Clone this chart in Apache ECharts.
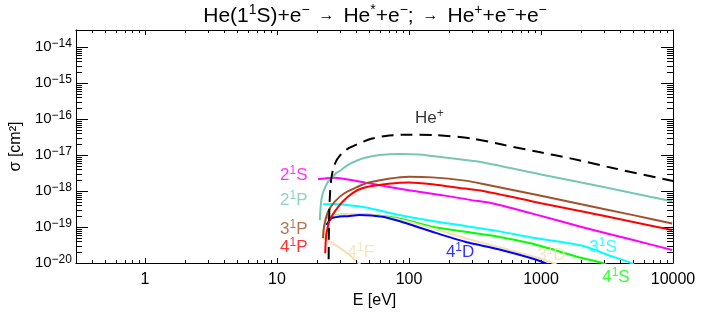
<!DOCTYPE html>
<html><head><meta charset="utf-8">
<script src="https://cdn.jsdelivr.net/npm/echarts@6/dist/echarts.min.js"></script>
<style>html,body{margin:0;padding:0;background:#fff}#c{width:708px;height:314px}</style>
</head><body><div id="c"></div>
<script>
// ---- axis ranges & tick labels ----
const xRange = [0.3, 10000];
const yRange = [1e-20, 3e-14];
const xTickLabels = ['1', '10', '100', '1000', '10000'];
const yTickExponents = [-20, -19, -18, -17, -16, -15, -14];

// ---- series values: [E (eV), sigma (cm^2)] ----
const heIon = [[24.6,1e-22],[24.62,1e-20],[24.75,1e-19],[25.0,4e-19],[25.3,1e-18],[25.8,2.2e-18],[26.8,4.5e-18],[28.5,7.5e-18],[31.6,1.2e-17],[35,1.55e-17],[40,1.95e-17],[51,2.8e-17],[66.7,3.4e-17],[99,3.7e-17],[158,3.6e-17],[299,2.9e-17],[528,1.9e-17],[947,1.23e-17],[1670,8.1e-18],[3570,4.3e-18],[10000,1.9e-18]];
const s2_1P = [[21.1,1.56e-19],[21.4,3.5e-19],[21.7,5.6e-19],[22.3,9e-19],[23.0,1.19e-18],[24.3,1.8e-18],[25.8,2.24e-18],[28.2,3.2e-18],[30.6,3.8e-18],[34,5.2e-18],[40.9,7.2e-18],[47.3,8.6e-18],[60,1.0e-17],[84,1.07e-17],[120,1.03e-17],[150,9.4e-18],[250,7.5e-18],[357,6.3e-18],[1000,2.9e-18],[2017,1.74e-18],[5000,8.7e-19],[9860,5.2e-19]];
const s2_1S = [[20.5,2.15e-18],[23,2.25e-18],[27.3,2.35e-18],[31,2.25e-18],[36.6,2.04e-18],[47.2,1.7e-18],[67,1.35e-18],[100,1.05e-18],[178,7.7e-19],[299,5.6e-19],[425,4.6e-19],[847,2.4e-19],[2000,1.02e-19],[5000,4.35e-20],[9860,2.3e-20]];
const s3_1P = [[22.3,4.9e-20],[22.6,9e-20],[23.0,1.26e-19],[24.4,2.7e-19],[27.3,5e-19],[32.4,8.7e-19],[40.9,1.32e-18],[48.7,1.7e-18],[70,2.2e-18],[100,2.5e-18],[150,2.4e-18],[266,1.95e-18],[357,1.6e-18],[1000,7.4e-19],[2017,4.3e-19],[5000,2.14e-19],[9860,1.25e-19]];
const s4_1P = [[23.2,1.86e-20],[23.4,4e-20],[23.7,6.6e-20],[25.1,1.56e-19],[29,3.6e-19],[34.4,6.9e-19],[40.9,1.07e-18],[48.7,1.32e-18],[70,1.6e-18],[100,1.74e-18],[150,1.55e-18],[266,1.17e-18],[357,1.02e-18],[1000,4.6e-19],[2017,2.75e-19],[5000,1.38e-19],[9860,8.3e-20]];
const s3_1S = [[22.3,4.3e-19],[26.5,4.4e-19],[34,4.1e-19],[47.2,3.5e-19],[84.2,2.15e-19],[150,1.47e-19],[266,1.07e-19],[475,7.7e-20],[847,5.1e-20],[2000,3.1e-20],[3500,1.5e-20],[4800,1e-20],[6500,5e-21]];
const s4_1S = [[23.0,1.74e-19],[25.8,2.0e-19],[30,2.2e-19],[35.4,2.3e-19],[47.2,2.25e-19],[84.2,1.74e-19],[150,1.02e-19],[266,7.4e-20],[475,5.4e-20],[847,3.5e-20],[1132,2.6e-20],[2000,1.4e-20],[2935,1e-20],[3800,6e-21]];
const s4_1D = [[23.7,1.14e-19],[25.8,1.74e-19],[30,1.95e-19],[34.4,2.0e-19],[42,2.15e-19],[63,1.94e-19],[84.2,1.47e-19],[150,7.4e-20],[266,3.9e-20],[475,2.4e-20],[847,1.35e-20],[1070,1e-20],[1300,7e-21]];
const s3_1D = [[22.8,4.4e-20],[23.0,1.4e-19],[23.5,2.0e-19],[26.5,2.05e-19],[35,2.3e-19],[42,2.3e-19],[84.2,1.63e-19],[150,9.2e-20],[266,4.9e-20],[475,2.8e-20],[847,1.56e-20],[1236,1e-20],[1500,7e-21]];
const s4_1F = [[24.0,4.2e-20],[26.5,3.5e-20],[34.5,1.8e-20],[41.4,1e-20],[50,6e-21]];

// ---- curve annotations (anchor in data coords) ----
const curveLabels = [
  {main:'He', sup:'+', tail:'', E:142.6, s:1.07e-16, color:'#000000'},
  {main:'2', sup:'1', tail:'S', E:13.4, s:2.78e-18, color:'#ff00ff'},
  {main:'2', sup:'1', tail:'P', E:13.4, s:5.6e-19, color:'#78c6b4'},
  {main:'3', sup:'1', tail:'P', E:13.4, s:8.8e-20, color:'#a0522d'},
  {main:'4', sup:'1', tail:'P', E:13.4, s:2.78e-20, color:'#ff0000'},
  {main:'4', sup:'1', tail:'F', E:43.2, s:2.03e-20, color:'#f5deb3'},
  {main:'4', sup:'1', tail:'D', E:244, s:2.03e-20, color:'#0000ff'},
  {main:'3', sup:'1', tail:'D', E:1199, s:1.67e-20, color:'#f5deb3'},
  {main:'3', sup:'1', tail:'S', E:2950, s:2.78e-20, color:'#00ffff'},
  {main:'4', sup:'1', tail:'S', E:3697, s:4.1e-21, color:'#00ff00'}
];

const FONT = 'Liberation Sans';
const chart = echarts.init(document.getElementById('c'), null, {renderer:'canvas'});

function isPow10(v){ const l = Math.log10(v); return Math.abs(l - Math.round(l)) < 1e-6; }

// minor tick positions (axis decoration)
const minorTicks = [];
for (let d = -1; d <= 3; d++) for (let m = 2; m <= 9; m++) {
  const v = m * Math.pow(10, d);
  if (v > xRange[0] && v < xRange[1]) minorTicks.push([v, yRange[0], 0]);
}
for (let d = -20; d <= -15; d++) for (let m = 2; m <= 9; m++) {
  const v = m * Math.pow(10, d);
  if (v > yRange[0] && v < yRange[1]) minorTicks.push([xRange[0], v, 1]);
}
function px(v){ return Math.round(v) + 0.5; }
function renderTick(params, api) {
  const kind = api.value(2);
  const st = {stroke:'#000', lineWidth:1};
  if (kind === 0) {
    const v = api.value(0);
    const b = api.coord([v, yRange[0]]), t = api.coord([v, yRange[1]]);
    const x = px(b[0]);
    return {type:'group', children:[
      {type:'line', shape:{x1:x, y1:b[1], x2:x, y2:b[1]-3}, style:st},
      {type:'line', shape:{x1:x, y1:t[1], x2:x, y2:t[1]+3}, style:st}]};
  } else {
    const v = api.value(1);
    const l = api.coord([xRange[0], v]), r = api.coord([xRange[1], v]);
    const y = px(l[1]);
    return {type:'group', children:[
      {type:'line', shape:{x1:l[0], y1:y, x2:l[0]+6, y2:y}, style:st},
      {type:'line', shape:{x1:r[0], y1:y, x2:r[0]-6, y2:y}, style:st}]};
  }
}

function lineSeries(name, data, color, dashed) {
  return {
    type:'line', name, data, showSymbol:false, smooth:0.25, clip:true,
    lineStyle:{color, width:2, type: dashed ? [12, 7] : 'solid'},
    emphasis:{disabled:true}, silent:true, z: dashed ? 5 : 3
  };
}

const richSup = {
  n:{fontSize:17, fontFamily:FONT, lineHeight:21},
  s:{fontSize:12, fontFamily:FONT, verticalAlign:'top', lineHeight:12}
};

const option = {
  animation:false,
  backgroundColor:'#ffffff',
  grid:{left:71, right:35, top:30, bottom:51},
  xAxis:[{
    type:'log', min:xRange[0], max:xRange[1], logBase:10,
    name:'E [eV]', nameLocation:'middle', nameGap:27,
    nameTextStyle:{fontFamily:FONT, fontSize:16, color:'#000'},
    axisLine:{show:true, lineStyle:{color:'#000', width:1}},
    axisTick:{show:true, inside:true, length:5, lineStyle:{color:'#000'}},
    axisLabel:{fontFamily:FONT, fontSize:16, color:'#000', margin:9,
      formatter:v => isPow10(v) && xTickLabels.includes(String(Math.round(v))) ? String(Math.round(v)) : ''},
    splitLine:{show:false}, minorTick:{show:false}
  },{
    type:'log', min:xRange[0], max:xRange[1], position:'top',
    axisLine:{show:true, lineStyle:{color:'#000', width:1}},
    axisTick:{show:true, inside:true, length:5, lineStyle:{color:'#000'}},
    axisLabel:{show:false}, splitLine:{show:false}
  }],
  yAxis:[{
    type:'log', min:yRange[0], max:yRange[1], logBase:10,
    name:'σ [cm²]', nameLocation:'middle', nameGap:48,
    nameTextStyle:{fontFamily:FONT, fontSize:16, color:'#000'},
    axisLine:{show:true, lineStyle:{color:'#000', width:1}},
    axisTick:{show:true, inside:true, length:12, lineStyle:{color:'#000'}},
    axisLabel:{color:'#000', margin:4,
      formatter:v => {
        if (!isPow10(v)) return '';
        const e = Math.round(Math.log10(v));
        if (!yTickExponents.includes(e)) return '';
        return '{b|10}{e|\u2212' + (-e) + '}';
      },
      rich:{b:{fontFamily:FONT, fontSize:15, lineHeight:19}, e:{fontFamily:FONT, fontSize:12, verticalAlign:'top', lineHeight:12}}
    },
    splitLine:{show:false}
  },{
    type:'log', min:yRange[0], max:yRange[1], position:'right',
    axisLine:{show:true, lineStyle:{color:'#000', width:1}},
    axisTick:{show:true, inside:true, length:12, lineStyle:{color:'#000'}},
    axisLabel:{show:false}, splitLine:{show:false}
  }],
  graphic:[{
    type:'text', x:375, y:16, silent:true,
    style:{
      text:'{n|He(1}{s|1}{n|S)+e}{s|\u2212}{a|  \u2192  }{n|He}{s|*}{n|+e}{s|\u2212}{n|;}{a|  \u2192  }{n|He}{s|+}{n|+e}{s|\u2212}{n|+e}{s|\u2212}',
      align:'center', verticalAlign:'middle', fill:'#000',
      rich:{
        n:{fontSize:21, fontFamily:FONT, lineHeight:25, fill:'#000'},
        a:{fontSize:16, fontFamily:FONT, lineHeight:25, fill:'#000'},
        s:{fontSize:14, fontFamily:FONT, verticalAlign:'top', lineHeight:14, fill:'#000'}
      }
    }
  }],
  series:[
    {type:'custom', name:'minorTicks', data:minorTicks, renderItem:renderTick, silent:true, clip:false, z:10,
     encode:{x:0, y:1}},
    lineSeries('2 1S', s2_1S, '#ff00ff'),
    lineSeries('3 1S', s3_1S, '#00ffff'),
    lineSeries('4 1S', s4_1S, '#00ff00'),
    lineSeries('4 1F', s4_1F, '#f5deb3'),
    lineSeries('3 1D', s3_1D, '#f5deb3'),
    lineSeries('4 1D', s4_1D, '#0000ff'),
    lineSeries('4 1P', s4_1P, '#ff0000'),
    lineSeries('3 1P', s3_1P, '#a0522d'),
    lineSeries('2 1P', s2_1P, '#78c6b4'),
    lineSeries('He+', heIon, '#000000', true),
    {type:'scatter', name:'labels', clip:false, silent:true, symbolSize:1,
     itemStyle:{color:'rgba(0,0,0,0)'}, z:8,
     data: curveLabels.map(c => ({
       value:[c.E, c.s],
       label:{show:true, position:'inside', color:c.color,
         formatter:'{n|' + c.main + '}{s|' + c.sup + '}' + (c.tail ? '{n|' + c.tail + '}' : ''),
         rich:richSup}
     }))}
  ]
};
chart.setOption(option);
</script></body></html>
